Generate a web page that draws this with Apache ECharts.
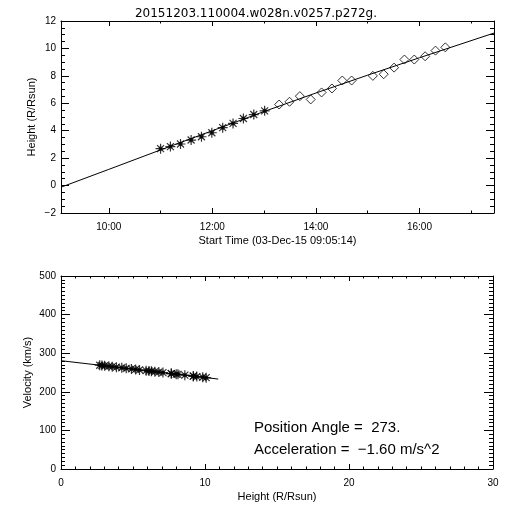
<!DOCTYPE html>
<html>
<head>
<meta charset="utf-8">
<script src="https://cdn.jsdelivr.net/npm/echarts@6/dist/echarts.min.js"></script>
<style>
html,body{margin:0;padding:0;background:#fff;}
#chart{width:512px;height:512px;}
</style>
</head>
<body>
<div id="chart"></div>
<script>
// ---- data ----
var titleText = '20151203.110004.w028n.v0257.p272g.';
// hours of day
var starTimes    = [11.00, 11.19, 11.385, 11.59, 11.79, 11.99, 12.20, 12.40, 12.60, 12.80, 13.01];
var starHeights  = [2.69, 2.84, 3.03, 3.32, 3.56, 3.85, 4.22, 4.53, 4.89, 5.18, 5.45];
var diamondTimes   = [13.29, 13.49, 13.69, 13.90, 14.11, 14.31, 14.51, 14.69, 15.10, 15.31, 15.51, 15.71, 15.90, 16.11, 16.31, 16.50];
var diamondHeights = [5.91, 6.11, 6.52, 6.28, 6.79, 7.08, 7.66, 7.66, 8.00, 8.12, 8.60, 9.19, 9.19, 9.43, 9.84, 10.08];
var fitTimes   = [9.077, 10, 11, 12, 13, 14, 15, 16, 17.44];
var fitHeights = [-0.12, 1.18, 2.60, 4.00, 5.40, 6.75, 8.05, 9.32, 11.12];
var timeMajorTicks = [10, 12, 14, 16];
var timeMinorTicks = [11, 13, 15, 17];
var timeTickLabels = ['10:00', '12:00', '14:00', '16:00'];

var velHeights = [2.69, 2.84, 3.03, 3.32, 3.56, 3.85, 4.22, 4.53, 4.89, 5.18, 5.45,
                  5.91, 6.11, 6.52, 6.28, 6.79, 7.08, 7.66, 7.66, 8.00, 8.12, 8.60, 9.19, 9.19, 9.43, 9.84, 10.08];
var velValues  = [268.9, 268.2, 267.4, 266.1, 265.1, 263.8, 262.2, 260.8, 259.3, 258.0, 256.8,
                  254.8, 254.0, 252.2, 253.2, 251.0, 249.7, 247.2, 247.2, 245.7, 245.2, 243.1, 240.5, 240.5, 239.5, 237.7, 236.7];
var velFitHeights = [0, 10.92];
var velFitValues  = [280.6, 233.0];

var annotation1 = 'Position Angle =  273.';
var annotation2 = 'Acceleration =  \u22121.60 m/s^2';

// ---- chart ----
function zip(a, b) { return a.map(function (v, i) { return [v, b[i]]; }); }
function steps(from, to, step, skip) {
  var out = [];
  for (var i = 0; from + i * step <= to + 1e-9; i++) {
    var v = +(from + i * step).toFixed(4);
    if (Math.abs(v / skip - Math.round(v / skip)) > 1e-6) out.push(v);
  }
  return out;
}
var hMinor = steps(-2, 12, 0.5, 2);
var vMinor = steps(0, 500, 10, 100);
var rMinor = steps(0, 30, 1, 10);

var FONT = 'Liberation Sans';
var BLACK = { color: '#000', width: 1 };
var labelStyle = { color: '#000', fontSize: 10, fontFamily: FONT };
var nameStyle = { color: '#000', fontSize: 11, fontFamily: FONT };
var asterisk = 'path://M5,0L5,10M0,5L10,5M1.5,1.5L8.5,8.5M1.5,8.5L8.5,1.5M3.5,3.5L6.5,3.5L6.5,6.5L3.5,6.5Z';

// generic axis builder
function ax(grid, pos, min, max, interval, ticks, len, showLine, label) {
  var a = {
    type: 'value', gridIndex: grid, position: pos, min: min, max: max,
    axisLine: { show: !!showLine, onZero: false, lineStyle: BLACK },
    axisTick: { show: true, inside: true, length: len, lineStyle: BLACK },
    axisLabel: label || { show: false },
    splitLine: { show: false },
    nameMoveOverlap: false
  };
  if (interval) a.interval = interval;
  if (ticks) a.axisTick.customValues = ticks;
  return a;
}

var timeLabel = Object.assign({ show: true, margin: 9, customValues: timeMajorTicks,
  formatter: function (v) { var i = timeMajorTicks.indexOf(Math.round(v)); return i >= 0 ? timeTickLabels[i] : ''; } }, labelStyle);

var option = {
  animation: false,
  backgroundColor: '#fff',
  title: {
    text: titleText, left: 'center', top: 3,
    textStyle: { color: '#000', fontSize: 12, fontWeight: 'normal', fontFamily: 'DejaVu Sans' }
  },
  grid: [
    { left: 61, right: 18, top: 21, height: 192 },
    { left: 61, right: 19, top: 276, height: 193 }
  ],
  xAxis: [
    Object.assign(ax(0, 'bottom', 9.077, 17.44, null, timeMajorTicks, 5, true, timeLabel), {
      name: 'Start Time (03-Dec-15 09:05:14)', nameLocation: 'middle', nameGap: 22, nameTextStyle: nameStyle
    }),
    ax(0, 'bottom', 9.077, 17.44, null, timeMinorTicks, 2.5, false),
    ax(0, 'top', 9.077, 17.44, null, timeMajorTicks, 5, true),
    ax(0, 'top', 9.077, 17.44, null, timeMinorTicks, 2.5, false),
    Object.assign(ax(1, 'bottom', 0, 30, 10, null, 5, true, Object.assign({ margin: 9 }, labelStyle)), {
      name: 'Height (R/Rsun)', nameLocation: 'middle', nameGap: 22, nameTextStyle: nameStyle
    }),
    ax(1, 'bottom', 0, 30, null, rMinor, 2.5, false),
    ax(1, 'top', 0, 30, 10, null, 5, true),
    ax(1, 'top', 0, 30, null, rMinor, 2.5, false)
  ],
  yAxis: [
    Object.assign(ax(0, 'left', -2, 12, 2, null, 8, true,
      Object.assign({ margin: 5, formatter: function (v) { return String(v).replace('-', '\u2212'); } }, labelStyle)), {
      name: 'Height (R/Rsun)', nameLocation: 'middle', nameGap: 24, nameTextStyle: nameStyle
    }),
    ax(0, 'left', -2, 12, null, hMinor, 4, false),
    ax(0, 'right', -2, 12, 2, null, 8, true),
    ax(0, 'right', -2, 12, null, hMinor, 4, false),
    Object.assign(ax(1, 'left', 0, 500, 100, null, 9, true, Object.assign({ margin: 5 }, labelStyle)), {
      name: 'Velocity (km/s)', nameLocation: 'middle', nameGap: 28, nameTextStyle: nameStyle
    }),
    ax(1, 'left', 0, 500, null, vMinor, 4, false),
    ax(1, 'right', 0, 500, 100, null, 9, true),
    ax(1, 'right', 0, 500, null, vMinor, 4, false)
  ],
  series: [
    {
      type: 'line', xAxisIndex: 0, yAxisIndex: 0, data: zip(fitTimes, fitHeights),
      showSymbol: false, symbol: 'none', lineStyle: BLACK, silent: true
    },
    {
      type: 'scatter', xAxisIndex: 0, yAxisIndex: 0, data: zip(starTimes, starHeights),
      symbol: asterisk, symbolSize: 10,
      itemStyle: { color: '#000', borderColor: '#000', borderWidth: 1.2 }
    },
    {
      type: 'scatter', xAxisIndex: 0, yAxisIndex: 0, data: zip(diamondTimes, diamondHeights),
      symbol: 'diamond', symbolSize: 9,
      itemStyle: { color: 'rgba(0,0,0,0)', borderColor: '#000', borderWidth: 1 }
    },
    {
      type: 'line', xAxisIndex: 4, yAxisIndex: 4, data: zip(velFitHeights, velFitValues),
      showSymbol: false, symbol: 'none', lineStyle: BLACK, silent: true
    },
    {
      type: 'scatter', xAxisIndex: 4, yAxisIndex: 4, data: zip(velHeights, velValues),
      symbol: asterisk, symbolSize: 10,
      itemStyle: { color: '#000', borderColor: '#000', borderWidth: 1.2 }
    }
  ],
  graphic: [
    { type: 'text', left: 254, top: 420, style: { text: annotation1, fill: '#000', font: '15px "Liberation Sans"' } },
    { type: 'text', left: 254, top: 442, style: { text: annotation2, fill: '#000', font: '15px "Liberation Sans"' } }
  ]
};

var chart = echarts.init(document.getElementById('chart'), null, { renderer: 'canvas' });
chart.setOption(option);
</script>
</body>
</html>
